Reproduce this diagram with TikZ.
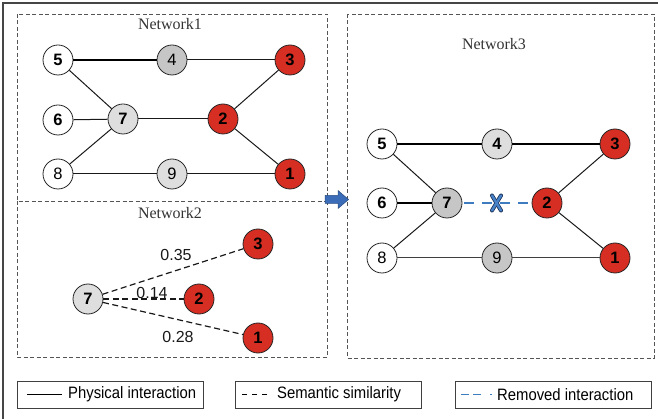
\documentclass[tikz,border=0pt]{standalone}
\usepackage{fontspec}
\setmainfont{Liberation Serif}
\setsansfont{Liberation Sans}
\definecolor{nodered}{RGB}{214,46,34}
\definecolor{graydark}{RGB}{198,198,198}
\definecolor{graylight}{RGB}{222,222,222}
\definecolor{remblue}{RGB}{62,124,192}
\definecolor{xblue}{RGB}{70,130,200}
\definecolor{xedge}{RGB}{30,50,90}
\definecolor{arrowblue}{RGB}{58,108,184}
\definecolor{framecol}{RGB}{70,70,70}
\definecolor{boxcol}{RGB}{85,85,85}
\tikzset{
  nd/.style={circle, draw=black!85, line width=0.8pt, minimum size=30pt, inner sep=0pt,
             font=\sffamily\fontsize{16.5}{16.5}\selectfont},
  bnd/.style={nd, font=\sffamily\bfseries\fontsize{16.5}{16.5}\selectfont},
  wn/.style={fill=white},
  gd/.style={fill=graydark},
  gl/.style={fill=graylight},
  rn/.style={fill=nodered},
  phys/.style={line width=1pt, black!90},
  physthick/.style={line width=1.6pt, black},
  sem/.style={line width=1.2pt, black!90, dash pattern=on 6pt off 3.5pt},
  removed/.style={line width=2.2pt, remblue, dash pattern=on 10pt off 8pt, dash phase=-2pt},
  netbox/.style={draw=boxcol, line width=0.9pt, dash pattern=on 4pt off 2.5pt},
  title/.style={font=\rmfamily\fontsize{16}{16}\selectfont, text=black!80},
  wlabel/.style={font=\sffamily\fontsize{16}{16}\selectfont, text=black!90, inner sep=0pt},
  legbox/.style={draw=black!75, line width=0.8pt},
  legtext/.style={font=\sffamily\fontsize{16.5}{17}\selectfont, anchor=west, inner sep=0pt, xscale=0.9},
}
\begin{document}
\begin{tikzpicture}[x=1pt, y=-1pt]
\useasboundingbox (0,0) rectangle (658,419);

% outer frame (top and left edges)
\draw[framecol, line width=1.2pt] (658,3) -- (3,3) -- (3,419);

% dashed panels; the two left panels share one edge
\draw[netbox] (17,14) rectangle (327,201);
\draw[netbox] (17,201) -- (17,357) -- (327,357) -- (327,201);
\draw[netbox] (347,14) rectangle (654,358);

\node[title] (t1) at (170,24) {Network1};
\node[title] (t2) at (170,213) {Network2};
\node[title] (t3) at (494,44) {Network3};

% ---------- Network1 ----------
\node[bnd, wn] (a5) at (58,60) {5};
\node[nd, gd]  (a4) at (172,60) {4};
\node[bnd, rn] (a3) at (290,60) {3};
\node[bnd, wn] (a6) at (58,120) {6};
\node[bnd, gl] (a7) at (123,119) {7};
\node[bnd, rn] (a2) at (223,119) {2};
\node[nd, wn]  (a8) at (58,174) {8};
\node[nd, gl]  (a9) at (172,174) {9};
\node[bnd, rn] (a1) at (290,174) {1};

\draw[physthick] (a5) -- (a4);
\draw[phys] (a4) -- (a3);
\draw[phys] (a5) -- (a7);
\draw[phys] (a6) -- (a7);
\draw[phys] (a8) -- (a7);
\draw[phys] (a7) -- (a2);
\draw[phys] (a3) -- (a2);
\draw[phys] (a2) -- (a1);
\draw[phys] (a8) -- (a9);
\draw[phys] (a9) -- (a1);

% ---------- Network2 ----------
\node[bnd, gl] (b7) at (88,299) {7};
\node[bnd, rn] (b3) at (258,244) {3};
\node[bnd, rn] (b2) at (199,299) {2};
\node[bnd, rn] (b1) at (258,338) {1};

\draw[sem] (b7) -- (b3);
\draw[sem] (b7) -- (b2);
\draw[sem] (b7) -- (b1);

\node[wlabel] (w3) at (176,255) {0.35};
\node[wlabel] (w2) at (152,293) {0.14};
\node[wlabel] (w1) at (178,337) {0.28};

% ---------- transition arrow ----------
\filldraw[fill=arrowblue, draw=arrowblue!70!black, line width=0.5pt]
  (325,195.5) -- (338,195.5) -- (338,190.5) -- (348.5,199.5) -- (338,208.5)
  -- (338,203.5) -- (325,203.5) -- cycle;

% ---------- Network3 ----------
\node[bnd, wn] (c5) at (382,144) {5};
\node[bnd, gl] (c4) at (497,144) {4};
\node[bnd, rn] (c3) at (615,144) {3};
\node[bnd, wn] (c6) at (382,203) {6};
\node[bnd, gd] (c7) at (447,203) {7};
\node[bnd, rn] (c2) at (547,203) {2};
\node[nd, wn]  (c8) at (382,258) {8};
\node[nd, gd]  (c9) at (497,258) {9};
\node[bnd, rn] (c1) at (615,258) {1};

\draw[physthick] (c5) -- (c4);
\draw[physthick] (c4) -- (c3);
\draw[phys] (c5) -- (c7);
\draw[physthick] (c6) -- (c7);
\draw[phys] (c8) -- (c7);
\draw[phys] (c3) -- (c2);
\draw[phys] (c2) -- (c1);
\draw[phys, black!75] (c8) -- (c9);
\draw[phys, black!75] (c9) -- (c1);
\draw[removed] (c7) -- (c2);

% cross mark on the removed link
\coordinate (xm) at (496.5,203);
\draw[xedge, line width=4pt, line cap=round] ([shift={(-4.5,-7.5)}]xm) -- ([shift={(4.5,7.5)}]xm);
\draw[xedge, line width=4pt, line cap=round] ([shift={(4.5,-7.5)}]xm) -- ([shift={(-4.5,7.5)}]xm);
\draw[xblue, line width=2.4pt, line cap=round] ([shift={(-4.5,-7.5)}]xm) -- ([shift={(4.5,7.5)}]xm);
\draw[xblue, line width=2.4pt, line cap=round] ([shift={(4.5,-7.5)}]xm) -- ([shift={(-4.5,7.5)}]xm);

% ---------- legend ----------
\draw[legbox] (17,381) rectangle (203,408);
\coordinate (l1a) at (27,394.5);
\coordinate (l1b) at (62,394.5);
\draw[line width=1.6pt, black] (l1a) -- (l1b);
\node[legtext] (lt1) at (68,394.5) {Physical interaction};

\draw[legbox] (235,381) rectangle (421,408);
\coordinate (l2a) at (242,394.5);
\coordinate (l2b) at (269,394.5);
\draw[line width=1pt, black, dash pattern=on 5pt off 5pt] (l2a) -- (l2b);
\node[legtext] (lt2) at (277,394.5) {Semantic similarity};

\draw[legbox] (455,381) rectangle (651,408);
\coordinate (l3a) at (461,394.5);
\coordinate (l3b) at (492,394.5);
\draw[line width=1.8pt, remblue, dash pattern=on 8pt off 4pt on 8pt off 9pt on 1.5pt off 10pt] (l3a) -- (l3b);
\node[legtext] (lt3) at (497,394.5) {Removed interaction};
\end{tikzpicture}
\end{document}
